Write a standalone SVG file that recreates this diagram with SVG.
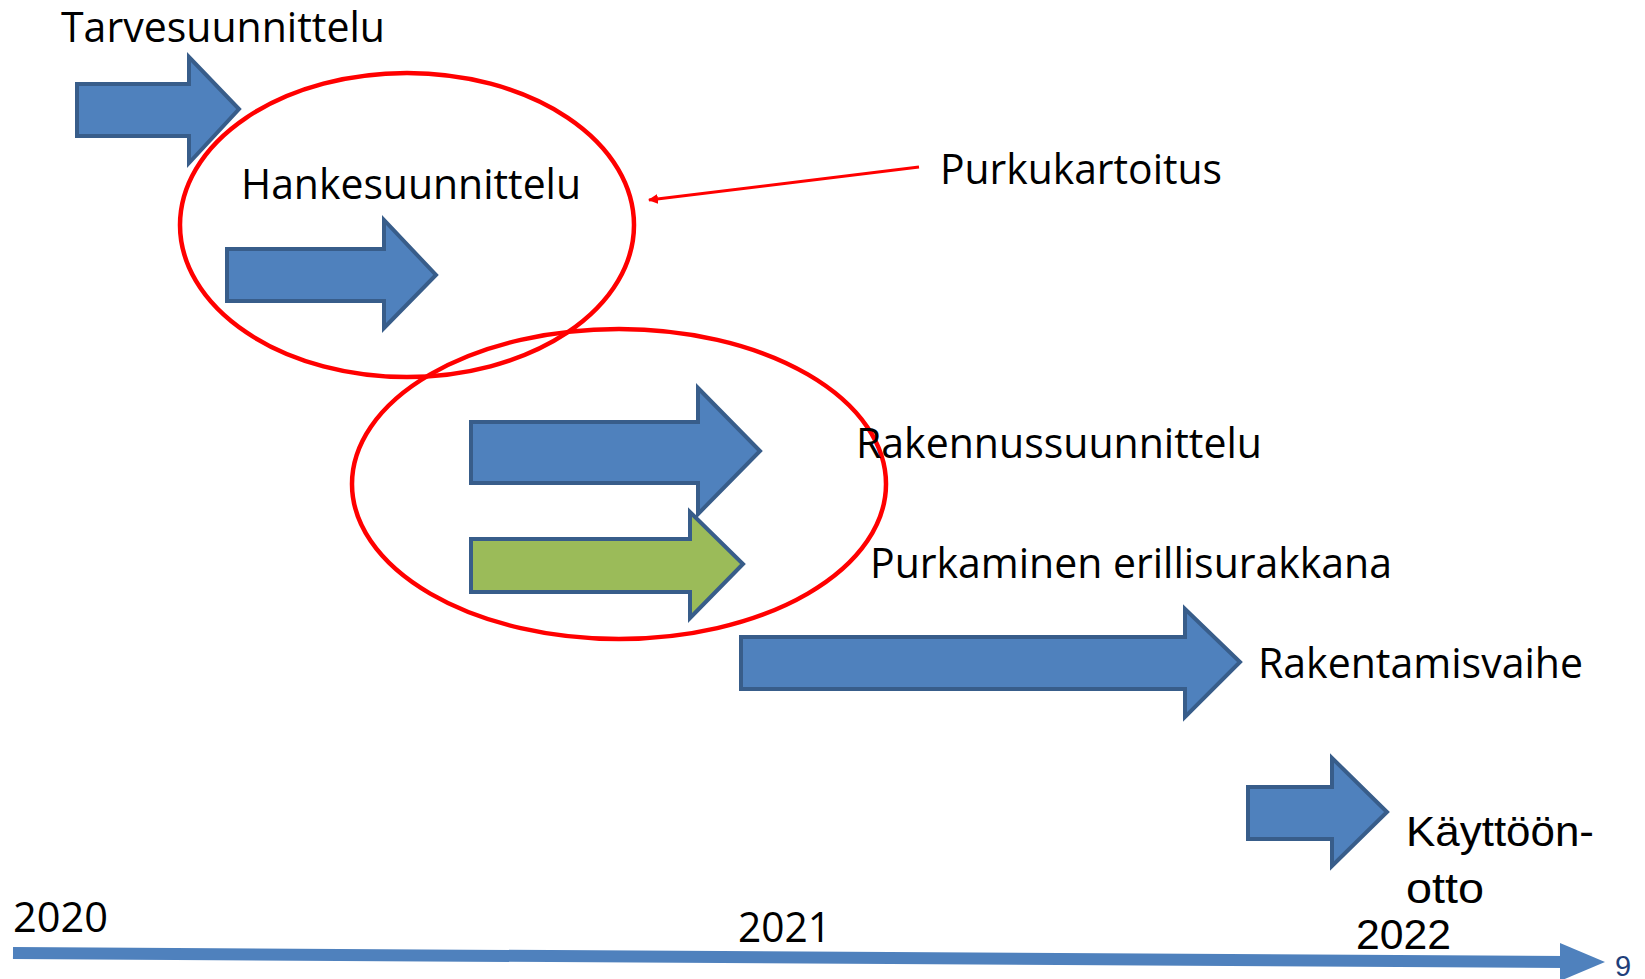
<svg xmlns="http://www.w3.org/2000/svg" width="1645" height="979" viewBox="0 0 1645 979">
<style>
.bl{fill:#4f81bd;stroke:#385d8a;stroke-width:4;stroke-linejoin:miter}
.gr{fill:#9bbb59;stroke:#385d8a;stroke-width:4;stroke-linejoin:miter}
.ov{fill:none;stroke:#ff0000;stroke-width:4.5}
.t{font-family:"Open Sans","Noto Sans",sans-serif;font-size:42px;fill:#000}
.a{font-family:"Liberation Sans",Arial,sans-serif;font-size:42px;fill:#000}
</style>
<defs>
<marker id="rh" markerWidth="10" markerHeight="10" refX="9" refY="5" orient="auto" markerUnits="userSpaceOnUse" viewBox="0 0 10 10">
<path d="M0,0 L10,5 L0,10 z" fill="#ff0000"/>
</marker>
</defs>
<rect width="1645" height="979" fill="#fff"/>
<g id="ellipses">
<ellipse class="ov" cx="407" cy="225" rx="227" ry="152"/>
<ellipse class="ov" cx="619" cy="484" rx="267" ry="155"/>
</g>
<g id="tarvesuunnittelu">
<polygon class="bl" points="77,84 189,84 189,57 239,109 189,163 189,136 77,136"/>
<text class="t" x="61" y="42" textLength="324" lengthAdjust="spacingAndGlyphs">Tarvesuunnittelu</text>
</g>
<g id="hankesuunnittelu">
<polygon class="bl" points="227,249 384,249 384,220 436,275 384,328 384,301 227,301"/>
<text class="t" x="241" y="199" textLength="340" lengthAdjust="spacingAndGlyphs">Hankesuunnittelu</text>
</g>
<g id="purkukartoitus">
<text class="t" x="940" y="184" textLength="282" lengthAdjust="spacingAndGlyphs">Purkukartoitus</text>
</g>
<g id="rakennussuunnittelu">
<polygon class="bl" points="471,422 698,422 698,388 760,451 698,514 698,483 471,483"/>
<text class="t" x="856" y="458" textLength="406" lengthAdjust="spacingAndGlyphs">Rakennussuunnittelu</text>
</g>
<g id="purkaminen">
<polygon class="gr" points="471,539 690,539 690,512 743,564 690,618 690,592 471,592"/>
<text class="t" x="870" y="578" textLength="522" lengthAdjust="spacingAndGlyphs">Purkaminen erillisurakkana</text>
</g>
<g id="rakentamisvaihe">
<polygon class="bl" points="741,637 1185,637 1185,609 1240,662 1185,717 1185,689 741,689"/>
<text class="t" x="1258" y="678" textLength="325" lengthAdjust="spacingAndGlyphs">Rakentamisvaihe</text>
</g>
<g id="kayttoonotto">
<polygon class="bl" points="1248,787 1332,787 1332,758 1387,812 1332,866 1332,839 1248,839"/>
<text class="a" x="1406" y="846" textLength="188" lengthAdjust="spacingAndGlyphs">Käyttöön-</text>
<text class="a" x="1406" y="903" textLength="78" lengthAdjust="spacingAndGlyphs">otto</text>
</g>
<g id="timeline">
<line x1="13" y1="953" x2="1565" y2="962" stroke="#4f81bd" stroke-width="12"/>
<polygon points="1560,943 1605,962 1560,981" fill="#4f81bd"/>
<text class="t" x="13" y="932" textLength="95" lengthAdjust="spacingAndGlyphs">2020</text>
<text class="t" x="738" y="942" textLength="93" lengthAdjust="spacingAndGlyphs">2021</text>
<text class="a" x="1356" y="949" textLength="95" lengthAdjust="spacingAndGlyphs">2022</text>
<text x="1615" y="976" font-family="Liberation Sans,Arial,sans-serif" font-size="29" fill="#1f3f7a">9</text>
</g>
<g id="connectors">
<line x1="919" y1="167" x2="649" y2="200" stroke="#ff0000" stroke-width="3" marker-end="url(#rh)"/>
</g>
</svg>
